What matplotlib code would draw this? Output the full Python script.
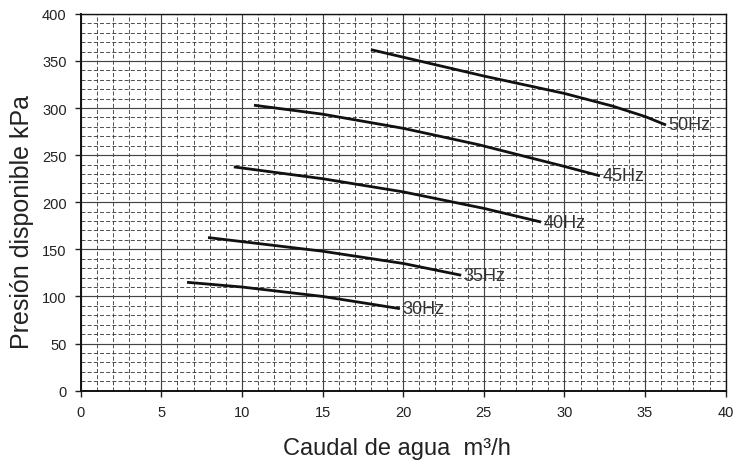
import numpy as np
import matplotlib
matplotlib.use("Agg")
import matplotlib.pyplot as plt
from matplotlib.ticker import MultipleLocator

plt.rcParams['font.family'] = ['Liberation Sans', 'DejaVu Sans']

# curve data (caudal m3/h, presion kPa)
q50 = [18.0, 20.0, 25.0, 30.0, 33.0, 35.0, 36.3]
p50 = [362, 354, 334, 315.5, 302, 291, 282]
q45 = [10.75, 15.0, 20.0, 24.7, 30.0, 32.2]
p45 = [303, 293.5, 278.5, 261, 238, 228]
q40 = [9.5, 15.0, 20.0, 25.0, 28.55]
p40 = [237.5, 225, 211, 193.5, 179]
q35 = [7.9, 15.0, 20.0, 23.6]
p35 = [162.5, 148, 135, 122.5]
q30 = [6.6, 10.0, 15.0, 19.8]
p30 = [115, 110, 100, 87]
labels = ['50Hz', '45Hz', '40Hz', '35Hz', '30Hz']

fig = plt.figure(figsize=(7.33, 4.64), dpi=100)
ax = fig.add_axes([0.110, 0.156, 0.880, 0.812])

ax.set_xlim(0, 40)
ax.set_ylim(0, 400)
ax.xaxis.set_major_locator(MultipleLocator(5))
ax.xaxis.set_minor_locator(MultipleLocator(1))
ax.yaxis.set_major_locator(MultipleLocator(50))
ax.yaxis.set_minor_locator(MultipleLocator(10))

# grid: solid on majors, dashed on minors
ax.grid(which='major', color='#444444', linestyle='-', linewidth=0.85)
ax.grid(which='minor', color='#333333', linestyle=(0, (4.8, 2.6)), linewidth=0.6)
ax.set_axisbelow(True)

ax.tick_params(which='major', direction='out', length=4, width=1, labelsize=10.5,
               colors='#222222', pad=6)
ax.tick_params(which='minor', length=0)
for s in ax.spines.values():
    s.set_color('#111111')
    s.set_linewidth(1.0)
ax.spines['left'].set_linewidth(1.4)
ax.spines['bottom'].set_linewidth(1.4)

curves = [(q50, p50), (q45, p45), (q40, p40), (q35, p35), (q30, p30)]
for (q, p), lab in zip(curves, labels):
    ax.plot(q, p, color='#111111', linewidth=2.0, solid_capstyle='butt',
            solid_joinstyle='round')
    ax.text(q[-1] + 0.15, p[-1], lab, fontsize=13, color='#333333',
            va='center', ha='left')

ax.set_xlabel('Caudal de agua  m³/h', fontsize=17, color='#222222')
ax.xaxis.label.set_va('center')
ax.xaxis.set_label_coords(0.49, -0.152)
ax.set_ylabel('Presión disponible kPa', fontsize=18, color='#222222')
ax.yaxis.label.set_va('center')
ax.yaxis.set_label_coords(-0.091, 0.45)

fig.savefig('out.png', dpi=100)
